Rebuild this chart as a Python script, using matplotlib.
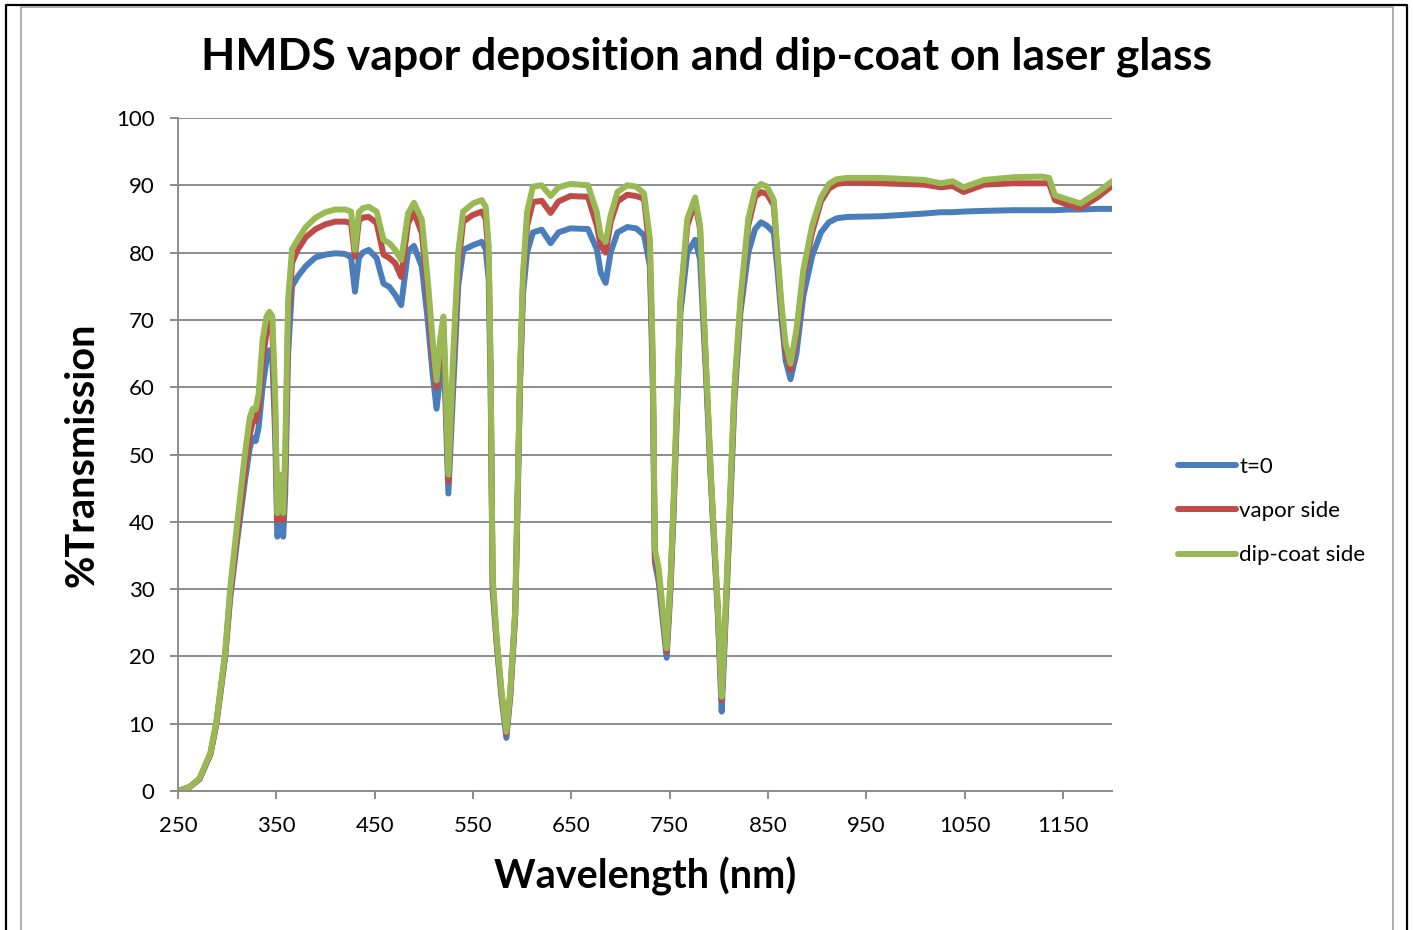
import numpy as np
import matplotlib
matplotlib.use('Agg')
import matplotlib.pyplot as plt
from matplotlib.lines import Line2D

plt.rcParams['font.family'] = ['Lato', 'DejaVu Sans']

# wavelength grid (nm) and %T
wavelength = [250, 262, 272, 283, 289, 298, 303, 310, 318, 323, 326, 329, 332, 336, 340, 343, 346, 349,
              351, 353, 355, 357, 359, 362, 366, 372, 380, 390, 400, 410, 420, 426, 430, 434, 438, 444,
              452, 459, 465, 471, 477, 484, 490, 498, 504, 509, 513, 517, 520, 522, 525, 530, 535, 540,
              550, 559, 563, 566, 568, 570, 574, 579, 584, 588, 593, 598, 601, 605, 611, 620, 629, 637,
              649, 667, 676, 680, 685, 690, 697, 707, 716, 724, 730, 733, 735, 739, 744, 747, 751, 754,
              761, 768, 776, 781, 787, 792, 799, 803, 806, 810, 816, 822, 830, 837, 843, 849, 856, 860,
              864, 868, 873, 879, 886, 895, 904, 912, 920, 931, 965, 1009, 1026, 1038, 1049, 1070, 1100, 1128,
              1136, 1142, 1155, 1168, 1186, 1200]

t0 = [0, 0.6, 1.8, 5.5, 10, 20, 28.5, 37, 46, 51, 52.5, 52, 54, 60, 64, 65.5, 64, 52,
      37.8, 39, 41, 37.8, 44, 65, 75, 76.5, 78, 79.3, 79.7, 79.9, 79.8, 79.3, 74.2, 79.2, 80, 80.4,
      79.2, 75.4, 74.9, 73.7, 72.2, 80.2, 81, 77.9, 70, 62, 56.8, 62, 66, 58, 44.2, 60, 75, 80.4,
      81.1, 81.6, 80.5, 76, 60, 30, 22, 14, 7.9, 14, 26, 61, 74, 80, 83, 83.4, 81.4, 83,
      83.6, 83.5, 80.5, 77, 75.5, 80, 83, 83.8, 83.6, 82.6, 78, 60, 34, 31, 24, 19.8, 30, 41,
      71, 80, 81.9, 79, 62, 46, 26.4, 11.8, 22, 36, 58, 71, 80, 83.5, 84.5, 84, 83, 77,
      70, 64, 61.2, 65, 73.5, 79.5, 83, 84.5, 85.1, 85.3, 85.4, 85.8, 86, 86, 86.1, 86.2, 86.3, 86.3,
      86.3, 86.3, 86.4, 86.4, 86.5, 86.5]

vapor = [0, 0.6, 1.8, 5.5, 10, 20.2, 29, 38, 47.5, 53, 54.8, 55, 57, 64, 68, 69.5, 68.5, 55,
         40.2, 41.5, 44, 40.2, 47, 70, 78.5, 80.5, 82.3, 83.5, 84.2, 84.6, 84.6, 84.4, 79.4, 84.8, 85.2, 85.3,
         84.4, 79.7, 79.2, 78.4, 76.4, 84.4, 86, 82.9, 74, 65, 60, 66, 69, 60, 46, 63, 78, 84.6,
         85.6, 86.1, 85, 79, 62, 31, 22.5, 14.5, 8.5, 14.5, 26.5, 62, 76, 84, 87.5, 87.7, 85.9, 87.6,
         88.4, 88.3, 84, 81, 80, 84.5, 87.6, 88.6, 88.4, 88, 80, 62, 35, 32, 25, 20.7, 31, 42,
         72.5, 84, 87.5, 83.5, 63, 46.5, 27, 13.5, 23, 37, 59.5, 72, 84, 88.3, 89, 88.7, 87, 79,
         71, 65.5, 62.6, 67.5, 76.5, 83, 87.6, 89.5, 90.2, 90.4, 90.3, 90.1, 89.7, 89.9, 89, 90.1, 90.3, 90.3,
         90.3, 87.8, 87.1, 86.6, 88.3, 89.9]

dipcoat = [0, 0.6, 1.9, 5.7, 10.3, 20.6, 30, 39.5, 50, 55.5, 56.8, 56.7, 59, 67, 70.5, 71.2, 70.5, 58,
           41.3, 43, 47, 41.3, 50, 73, 80.5, 82, 83.8, 85.2, 86, 86.4, 86.4, 86.1, 80.4, 86, 86.6, 86.8,
           86.1, 81.9, 81.4, 80.4, 78.9, 85.8, 87.4, 84.9, 76, 67, 61, 67.5, 70.5, 62, 47, 65, 80, 86.1,
           87.3, 87.8, 86.8, 80.9, 63, 32, 23, 15, 8.8, 15, 27, 63, 77, 86, 89.8, 90, 88.4, 89.7,
           90.2, 90, 86, 82.5, 81.6, 85.5, 89, 90, 89.8, 88.8, 82, 64, 36, 33, 25.5, 21.2, 31.5, 43,
           73, 85, 88.2, 84, 64, 47, 27.5, 14, 23.5, 38, 60, 73, 85, 89.3, 90.2, 89.8, 87.8, 79.5,
           72, 66.5, 63.5, 68.5, 77.4, 84, 88.2, 90.2, 90.9, 91.1, 91.1, 90.8, 90.3, 90.6, 89.7, 90.8, 91.2, 91.3,
           91.1, 88.5, 87.9, 87.3, 89, 90.6]

series_names = ['t=0', 'vapor side', 'dip-coat side']
series_colors = ['#4A7EBB', '#BE4B48', '#98B954']

W, H = 1413, 930
fig = plt.figure(figsize=(W / 100, H / 100), dpi=100)
ax = fig.add_axes([178 / W, 1 - 791 / H, (1112 - 178) / W, (791 - 118) / H])

for vals, name, col in zip([t0, vapor, dipcoat], series_names, series_colors):
    ax.plot(wavelength, vals, color=col, lw=4.3, label=name,
            solid_capstyle='round', solid_joinstyle='round')

grid_col = '#8c8c8c'
ax.set_xlim(250, 1200)
ax.set_ylim(0, 100)
ax.set_xticks(np.arange(250, 1200, 100))
ax.set_yticks(np.arange(0, 101, 10))
ax.grid(axis='y', color=grid_col, lw=1.4)
ax.set_axisbelow(True)
for s in ['top', 'right']:
    ax.spines[s].set_visible(False)
for s in ['left', 'bottom']:
    ax.spines[s].set_color(grid_col)
    ax.spines[s].set_linewidth(1.4)
ax.tick_params(axis='both', direction='out', length=6, width=1.4, color=grid_col,
               labelsize=16, labelcolor='black')
ax.tick_params(axis='y', pad=11)
ax.tick_params(axis='x', pad=12)

ax.set_xlabel('Wavelength (nm)', fontsize=28.5, fontweight='bold')
ax.xaxis.set_label_coords(0.5, -0.098)
ax.set_ylabel('%Transmission', fontsize=28.5, fontweight='bold')
ax.yaxis.set_label_coords(-0.083, 0.5)

fig.text(0.5, 1 - 57 / H, 'HMDS vapor deposition and dip-coat on laser glass',
         ha='center', va='center', fontsize=32, fontweight='bold')

ax.legend(loc='center left', bbox_to_anchor=(1178 / W, 1 - 511 / H),
          bbox_transform=fig.transFigure, frameon=False, fontsize=16,
          handlelength=2.6, handletextpad=0.15, labelspacing=1.1,
          borderpad=0, borderaxespad=0)

# chart frame (black outer, gray inner)
def px_line(xs, ys, **kw):
    fig.add_artist(Line2D([x / W for x in xs], [1 - y / H for y in ys],
                          transform=fig.transFigure, **kw))

px_line([6, 6, 1407, 1407], [935, 5, 5, 935], color='black', lw=1.6)
px_line([21, 21, 1393, 1393], [935, 7, 7, 935], color='#a0a0a0', lw=1.2)

fig.savefig('out.png', dpi=100)
